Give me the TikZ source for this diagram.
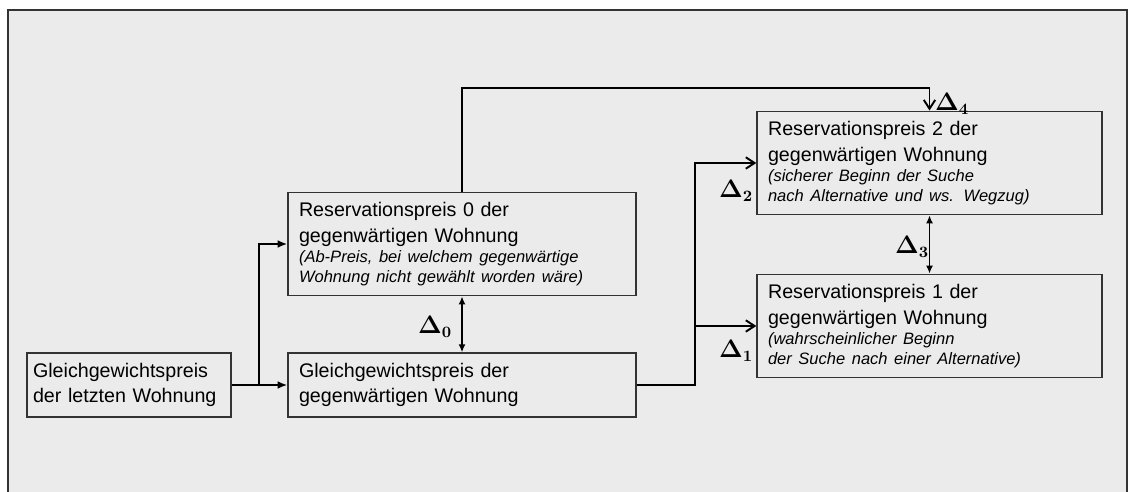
\documentclass[tikz,border=0pt]{standalone}
\usepackage{fontspec}
\setmainfont{Liberation Sans}
\usetikzlibrary{arrows.meta}

\definecolor{panelgray}{HTML}{EBEBEB}
\definecolor{linegray}{HTML}{333333}

\newcommand{\note}[1]{{\fontsize{9.4}{11.4}\selectfont\itshape #1\par}}

\begin{document}
\begin{tikzpicture}[
    x=0.02cm, y=-0.02cm,
    pricebox/.style={
        rectangle,
        draw=linegray,
        line width=0.8pt,
        align=left,
        inner sep=0.2cm,
        minimum height=2cm,
        font=\fontsize{11.2}{14.7}\selectfont
    },
    wide/.style={minimum width=6.96cm, text width=6.52cm},
    right/.style={minimum width=6.9cm, text width=6.46cm},
    flow/.style={line width=1.1pt, -{Latex[length=5.5pt,width=4.5pt]}},
    openflow/.style={line width=1.1pt, -{Straight Barb[length=5pt,width=6.5pt]}},
    delta/.style={line width=0.8pt, {Latex[length=4.5pt,width=4pt]}-{Latex[length=4.5pt,width=4pt]}},
    dlabel/.style={font=\fontsize{13.5}{16}\selectfont\boldmath, inner sep=0pt}
]

% Panel
\useasboundingbox (0,0) rectangle (1131,492);
\fill[panelgray] (8,10) rectangle (1127,500);
\draw[linegray, line width=0.9pt] (8,500) -- (8,10) -- (1127,10) -- (1127,500);

% Boxes
\node[pricebox, minimum width=4.08cm, text width=3.84cm, inner xsep=0.12cm, minimum height=1.2cm] (last) at (129,385)
    {Gleichgewichtspreis\\der letzten Wohnung};
\node[pricebox, wide, minimum height=1.2cm] (gg) at (462,385)
    {Gleichgewichtspreis der\\gegenwärtigen Wohnung};
\node[pricebox, wide] (res0) at (462,244)
    {Reservationspreis 0 der\\gegenwärtigen Wohnung\par
     \note{(Ab-Preis, bei welchem gegenwärtige\\Wohnung nicht gewählt worden wäre)}};
\node[pricebox, right] (res2) at (929.5,163)
    {Reservationspreis 2 der\\gegenwärtigen Wohnung\par
     \note{(sicherer Beginn der Suche\\nach Alternative und ws. Wegzug)}};
\node[pricebox, right, minimum height=1.96cm] (res1) at (929.5,326)
    {Reservationspreis 1 der\\gegenwärtigen Wohnung\par
     \note{(wahrscheinlicher Beginn\\der Suche nach einer Alternative)}};

% Branch points
\coordinate (split0) at (259,385);
\coordinate (split1) at (695,385);
\coordinate (over) at (462,88);

% Connections
\draw[flow] (last.east) -- (gg.west);
\draw[flow] (split0) |- (res0.west);
\draw[openflow] (gg.east) -- (split1) |- (res2.west);
\draw[openflow] (split1 |- res1.west) -- (res1.west);
\draw[openflow] (res0.north) -- (over) -| (res2.north);
\draw[delta] (res0.south) -- (gg.north);
\draw[delta] (res2.south) -- (res1.north);

% Differences
\node[dlabel] (d0) at (435,327) {$\Delta_0$};
\node[dlabel] (d1) at (736,351) {$\Delta_1$};
\node[dlabel] (d2) at (736,191) {$\Delta_2$};
\node[dlabel] (d3) at (912,247) {$\Delta_3$};
\node[dlabel] (d4) at (952,104) {$\Delta_4$};

\end{tikzpicture}
\end{document}
